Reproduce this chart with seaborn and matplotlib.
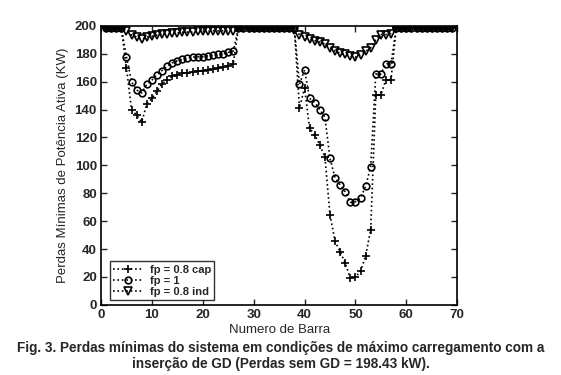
import numpy as np
import pandas as pd
import seaborn as sns
import matplotlib.pyplot as plt

# === Data ===
barras = list(range(1, 70))

perdas_cap = ([198.4, 198.4, 198.3, 198.2]
              + [170, 140, 136, 131, 144, 148, 153, 158.5, 161.5, 164, 165, 166,
                 166.5, 167, 167.5, 168, 168.5, 169, 169.5, 170.5, 171.5, 173]
              + [198.2] * 12
              + [141, 155.5, 126.5, 122, 114.5, 106, 64.5, 45.5, 38, 30, 19, 20,
                 24, 35, 54, 150.5, 150.5, 161.5, 161.5]
              + [198.3] * 12)

perdas_unit = ([198.4, 198.4, 198.3, 198.2]
               + [178, 160, 154, 152, 158, 161, 165, 168, 171, 173.5, 175, 176,
                  177, 177.5, 178, 178, 178.5, 179, 179.5, 180, 181, 182]
               + [198.2] * 12
               + [158, 168.5, 148, 145, 140, 134.5, 105, 91, 86, 81, 73.5, 74,
                  76.5, 85, 99, 165.5, 165.5, 173, 173]
               + [198.3] * 12)

perdas_ind = ([198.4, 198.4, 198.3, 198.2]
              + [196, 193.5, 192, 190.5, 192, 192.5, 193.5, 194, 194.5, 195, 195,
                 195.5, 195.5, 195.5, 196, 196, 196, 196.5, 196.5, 196.5, 196.5, 196]
              + [198.2] * 11 + [197.4]
              + [193.8, 192, 190.5, 189.5, 188.5, 187, 184, 182, 180.5, 179.5,
                 178.2, 177.5, 179.4, 181.8, 184.2, 190.2, 193.8, 193.8, 194.5]
              + [198.3] * 12)

series = [
    ("fp = 0.8 cap", perdas_cap, "+", 6),
    ("fp = 1", perdas_unit, "o", 4.8),
    ("fp = 0.8 ind", perdas_ind, "v", 5.2),
]

# === Plot ===
sns.set_style("ticks")
plt.rcParams["font.family"] = ["Liberation Sans", "DejaVu Sans"]

fig = plt.figure(figsize=(5.61, 3.75), dpi=100)
ax = fig.add_axes([0.18, 0.187, 0.635, 0.744])

for label, vals, mk, ms in series:
    df = pd.DataFrame({"barra": barras, "perdas": vals})
    sns.lineplot(data=df, x="barra", y="perdas", ax=ax, color="black",
                 linestyle=":", linewidth=1.2, marker=mk, markersize=ms,
                 markerfacecolor="none", markeredgecolor="black", markeredgewidth=1.2,
                 label=label)

ax.set_xlim(0, 70)
ax.set_ylim(0, 200)
ax.set_xticks(np.arange(0, 71, 10))
ax.set_yticks(np.arange(0, 201, 20))
ax.tick_params(direction="in", top=True, right=True, length=4, width=1,
               labelsize=9.5, pad=3)
for t in ax.get_xticklabels() + ax.get_yticklabels():
    t.set_fontweight("bold")
for s in ax.spines.values():
    s.set_linewidth(1.2)
    s.set_color("black")

ax.set_xlabel("Numero de Barra", fontsize=9.5, labelpad=2)
ax.set_ylabel("Perdas Mínimas de Potência Ativa (KW)", fontsize=9.5, labelpad=4)

leg = ax.legend(loc="lower left", fontsize=8, frameon=True, fancybox=False,
                edgecolor="black", handlelength=2.6, borderpad=0.3,
                labelspacing=0.08, handletextpad=0.7, borderaxespad=0,
                bbox_to_anchor=(0.025, 0.018))
leg.get_frame().set_linewidth(1.0)
for t in leg.get_texts():
    t.set_fontweight("bold")

fig.text(0.5, 0.05, "Fig. 3. Perdas mínimas do sistema em condições de máximo carregamento com a\n"
         "inserção de GD (Perdas sem GD = 198.43 kW).",
         ha="center", va="center", fontsize=9.8, fontweight="bold", linespacing=1.15)

fig.savefig("out.png", dpi=100)
plt.close(fig)
